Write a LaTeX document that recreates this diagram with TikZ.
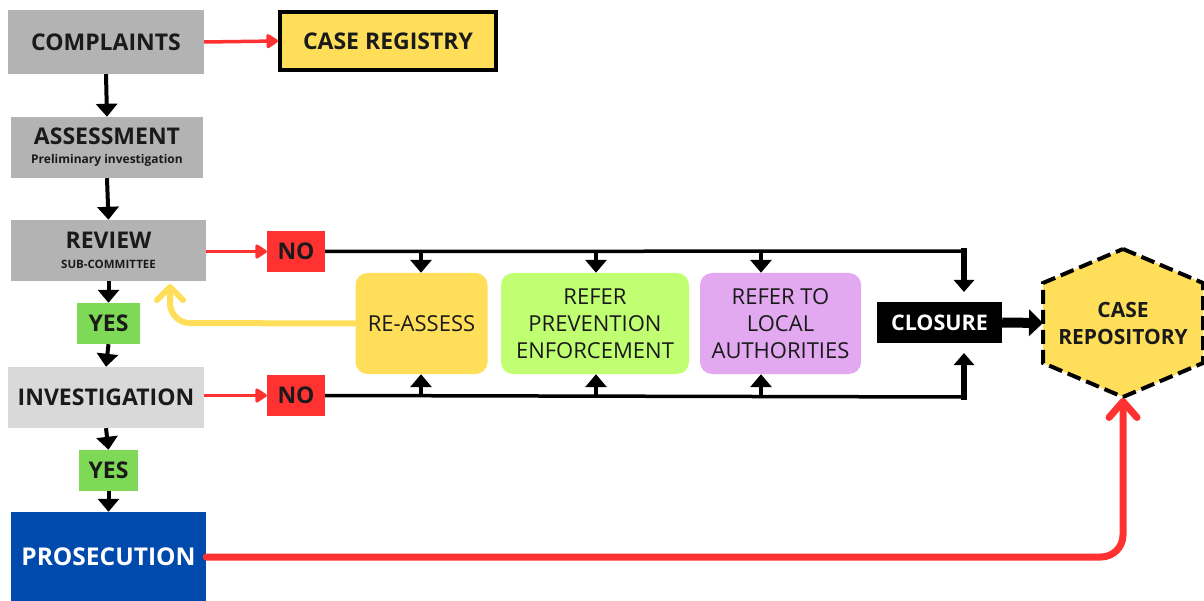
\documentclass[tikz,border=0pt]{standalone}
\usepackage{fontspec}
\setmainfont{Open Sans}
\usetikzlibrary{arrows.meta}
\definecolor{gry}{HTML}{B3B3B3}
\definecolor{lgry}{HTML}{D9D9D9}
\definecolor{yel}{HTML}{FFDE59}
\definecolor{rd}{HTML}{FF3131}
\definecolor{grn}{HTML}{7ED957}
\definecolor{blu}{HTML}{004AAD}
\definecolor{lime}{HTML}{C1FF72}
\definecolor{lil}{HTML}{E2A9F1}
\definecolor{ink}{HTML}{1A1A1A}
\newcommand{\fs}[2]{\fontsize{#1}{#2}\selectfont}
\begin{document}
\begin{tikzpicture}[x=1pt,y=-1pt,
  box/.style={rectangle, inner sep=0pt, text=ink, font=\bfseries\fs{23}{26}, align=center},
  rbox/.style={rectangle, rounded corners=12pt, inner sep=0pt, text=ink, font=\fs{22}{27}, align=center},
  redarr/.style={draw=rd, line width=3.5pt, -{Triangle[width=16pt,length=13pt,round]}},
  blkarr/.style={draw=black, line width=4pt, -{Triangle[width=21pt,length=13pt]}},
  blkline/.style={draw=black, line width=3.5pt},
  thkarr/.style={draw=black, line width=6pt, -{Triangle[width=20pt,length=12pt]}},
  barb/.style={line cap=round, line join=round}
]
\useasboundingbox (0,0) rectangle (1204,601);

% left column
\node[box, fill=gry, minimum width=196pt, minimum height=64pt] (complaints) at (106,42) {COMPLAINTS};
\node[box, fill=yel, draw=black, line width=4pt, minimum width=216pt, minimum height=58pt] (registry) at (388,41) {CASE REGISTRY};
\node[box, fill=gry, minimum width=192pt, minimum height=61pt] (assess) at (107,147.5)
  {ASSESSMENT\\[-7pt]{\fs{12}{14}Preliminary investigation}};
\node[box, fill=gry, minimum width=195pt, minimum height=61pt] (review) at (108.5,250.5)
  {REVIEW\\[-6pt]{\fs{11.5}{13}SUB-COMMITTEE}};
\node[box, fill=grn, minimum width=63pt, minimum height=41pt] (yes1) at (108.5,323.5) {YES};
\node[box, fill=lgry, minimum width=196pt, minimum height=61pt] (invest) at (106,397.5) {INVESTIGATION};
\node[box, fill=grn, minimum width=59pt, minimum height=41pt] (yes2) at (108.5,470.5) {YES};
\node[box, fill=blu, text=white, font=\bfseries\fs{24.5}{27}, minimum width=195pt, minimum height=90pt] (prosec) at (108.5,557) {PROSECUTION};

\node[box, fill=rd, minimum width=58pt, minimum height=41pt] (no1) at (296,251.5) {NO};
\node[box, fill=rd, minimum width=58pt, minimum height=41pt] (no2) at (296,395.5) {NO};

% option boxes
\node[rbox, fill=yel, minimum width=132pt, minimum height=101pt] (reassess) at (421.5,323.5) {RE-ASSESS};
\node[rbox, fill=lime, minimum width=188pt, minimum height=101pt] (refer) at (595,323.5) {REFER\\PREVENTION\\ENFORCEMENT};
\node[rbox, fill=lil, minimum width=161pt, minimum height=101pt] (local) at (780.5,323.5) {REFER TO\\LOCAL\\AUTHORITIES};

\node[box, fill=black, text=white, font=\bfseries\fs{21.5}{24}, minimum width=125pt, minimum height=41pt] (closure) at (939.5,322.5) {CLOSURE};

% hexagon
\draw[fill=yel, draw=black, line width=4pt, dash pattern=on 14pt off 6pt]
  (1123,249) -- (1203,283) -- (1203,363) -- (1123,397) -- (1043,363) -- (1043,283) -- cycle;
\node[box, font=\bfseries\fs{21}{27}] (repo) at (1123,323) {CASE\\REPOSITORY};
\coordinate (hexL) at (1043,323);
\coordinate (hexB) at (1123,398);

% vertical black arrows
\draw[blkarr] (complaints.south) -- (assess.north);
\draw[blkarr] (assess.south) -- (review.north);
\draw[blkarr] (review.south) -- (yes1.north);
\draw[blkarr] (yes1.south) -- (invest.north);
\draw[blkarr] (invest.south) -- (yes2.north);
\draw[blkarr] (yes2.south) -- (prosec.north);

% red arrows
\draw[redarr] (complaints.east) -- (registry.west);
\draw[redarr] (review.east |- no1.west) -- (no1.west);
\draw[redarr] (invest.east |- no2.west) -- (no2.west);

% top bus
\coordinate (tc) at (964,251);
\coordinate (ctop) at (964,292);
\draw[blkline] (no1.east) -- (966,251);
\draw[thkarr] (964,248.5) -- (ctop);
\coordinate (t1) at (421,251);
\coordinate (t2) at (596,251);
\coordinate (t3) at (761,251);
\draw[blkarr] (t1) -- (t1 |- reassess.north);
\draw[blkarr] (t2) -- (t2 |- refer.north);
\draw[blkarr] (t3) -- (t3 |- local.north);

% bottom bus
\coordinate (bc) at (964,397);
\coordinate (cbot) at (964,353);
\draw[blkline] (no2.east) -- (966,397);
\draw[thkarr] (964,400) -- (cbot);
\coordinate (u1) at (421,396);
\coordinate (u2) at (596,396);
\coordinate (u3) at (761,396);
\draw[blkarr] (u1) -- (u1 |- reassess.south);
\draw[blkarr] (u2) -- (u2 |- refer.south);
\draw[blkarr] (u3) -- (u3 |- local.south);

% closure to repository
\draw[draw=black, line width=10pt, -{Triangle[width=26pt,length=14pt]}] (closure.east) -- (hexL);

% yellow loop back
\coordinate (yc) at (170,323);
\coordinate (ytip) at (170,284);
\draw[draw=yel, line width=6pt, barb, rounded corners=20pt,
  -{Straight Barb[width=26pt,length=13pt,round]}] (reassess.west) -- (yc) -- (ytip);

% prosecution to repository
\coordinate (pc) at (1123,557);
\draw[draw=rd, line width=7pt, barb, rounded corners=22pt,
  -{Straight Barb[width=28pt,length=16pt,round]}] (prosec.east) -- (pc) -- (hexB);
\end{tikzpicture}
\end{document}
